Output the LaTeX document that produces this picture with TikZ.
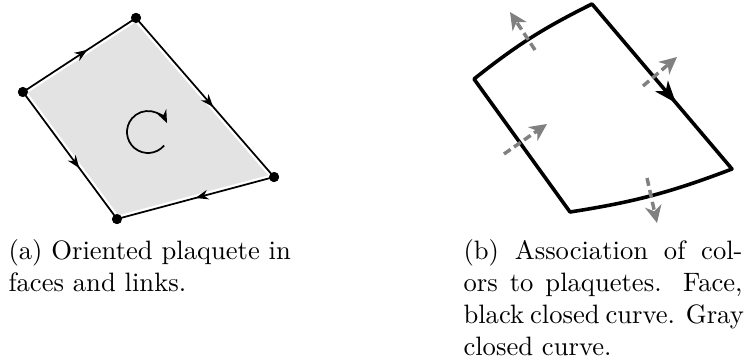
\documentclass[tikz,border=0pt]{standalone}
\usetikzlibrary{arrows.meta,decorations.markings}
\begin{document}
\begin{tikzpicture}[x=0.3759pt,y=-0.3759pt,
  dot/.style={circle,fill=black,inner sep=0pt,minimum size=3.8pt},
  thinedge/.style={line width=0.65pt},
  midarrow/.style={postaction={decorate},decoration={markings,
     mark=at position #1 with {\arrow{Stealth[length=4.8pt,width=3.6pt,inset=1.5pt]}}}},
  bigarrow/.style={postaction={decorate},decoration={markings,
     mark=at position #1 with {\arrow{Stealth[length=8.3pt,width=6.2pt,inset=2.4pt]}}}},
  face/.style={line width=1.35pt,line join=round},
  grayarrow/.style={draw=black!50,line width=1.3pt,dash pattern=on 3pt off 1.6pt,
     -{Stealth[length=6.5pt,width=6.2pt,inset=2pt]}},
  captext/.style={inner sep=0pt,anchor=base west,font=\normalsize}
]
\useasboundingbox (0,0) rectangle (745,363);

% ---------- (a) ----------
\node[dot] (A) at (23,92) {};
\node[dot] (B) at (136,18) {};
\node[dot] (C) at (274,177) {};
\node[dot] (D) at (117,219) {};
\fill[black!11] (A.center)--(B.center)--(C.center)--(D.center)--cycle;
\draw[white,line width=2.4pt,line join=round] (A.center)--(B.center)--(C.center)--(D.center)--cycle;
\draw[thinedge,midarrow=0.57] (A.center) -- (B.center);
\draw[thinedge,midarrow=0.56] (B.center) -- (C.center);
\draw[thinedge,midarrow=0.6] (A.center) -- (D.center);
\draw[thinedge,midarrow=0.5] (C.center) -- (D.center);
\node[dot] at (A) {};
\node[dot] at (B) {};
\node[dot] at (C) {};
\node[dot] at (D) {};
\coordinate (O) at (148,132);
\draw[thinedge,-{Stealth[length=4.8pt,width=3.8pt,inset=1.5pt]}] (O) ++(40:21) arc[start angle=40,end angle=335,radius=21];

% ---------- (b) ----------
\coordinate (L) at (474,79);
\coordinate (T) at (592,4);
\coordinate (R) at (732,169);
\coordinate (Bt) at (570,212);
\draw[face] (L) to[bend left=6] (T) -- (R) to[bend left=6] (Bt) -- cycle;
\draw[face,draw=none,bigarrow=0.6] (T) -- (R);
\coordinate (g1s) at (535,50);  \coordinate (g1e) at (510,12);
\coordinate (g2s) at (643,86);  \coordinate (g2e) at (677,57);
\coordinate (g3s) at (504,154); \coordinate (g3e) at (547,124);
\coordinate (g4s) at (647,178); \coordinate (g4e) at (657,223);
\draw[grayarrow] (g1s) -- (g1e);
\draw[grayarrow] (g2s) -- (g2e);
\draw[grayarrow] (g3s) -- (g3e);
\draw[grayarrow] (g4s) -- (g4e);

% ---------- captions ----------
\node[captext] (capa1) at (8,260) {(a) Oriented plaquete in};
\node[captext] (capa2) at (8,292) {faces and links.};
\node[captext] (capb1) at (463,260) {\makebox[104.9pt][s]{(b) Association of col-}};
\node[captext] (capb2) at (463,292) {\makebox[104.9pt][s]{ors to plaquetes. Face,}};
\node[captext] (capb3) at (463,324) {\makebox[104.9pt][s]{black closed curve. Gray}};
\node[captext] (capb4) at (463,356) {closed curve.};
\end{tikzpicture}
\end{document}
